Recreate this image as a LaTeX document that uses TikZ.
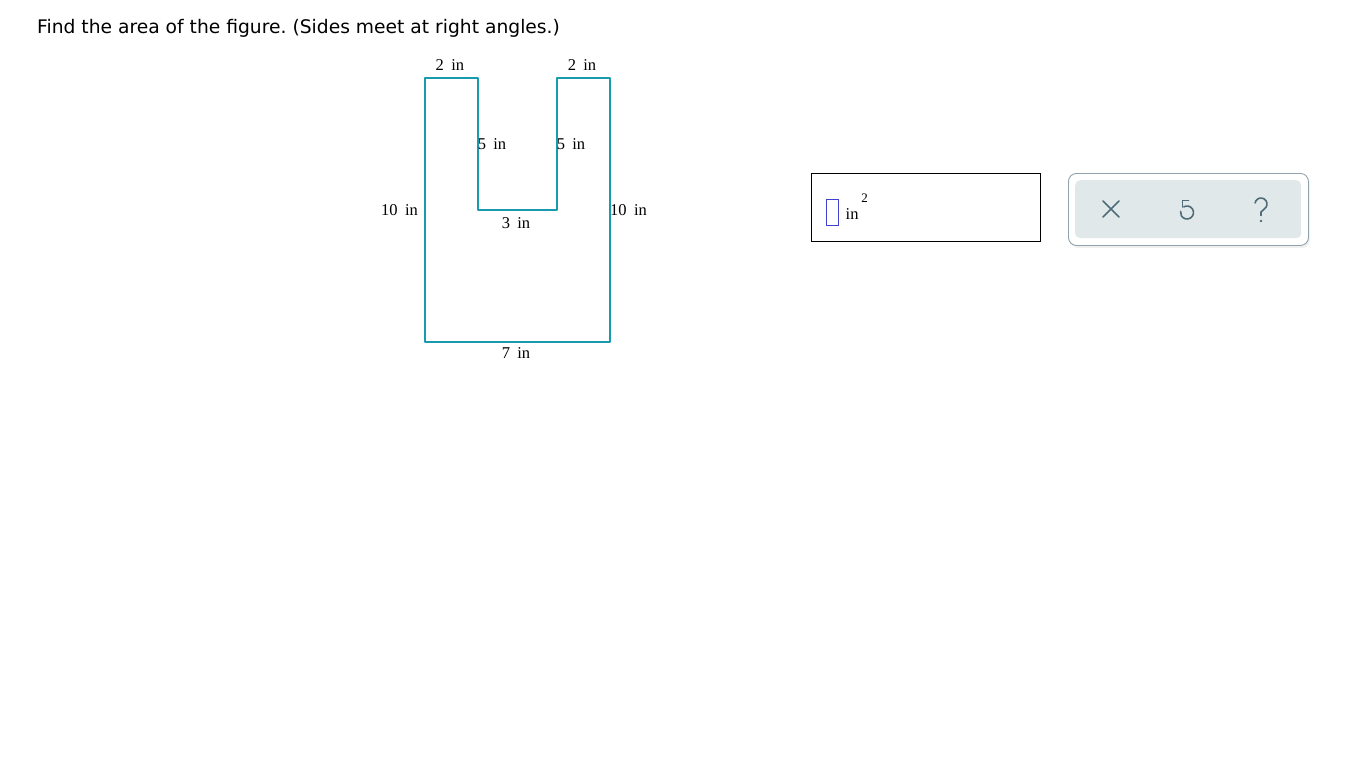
\documentclass[tikz,border=0pt]{standalone}
\usepackage{fontspec}
\setmainfont{Liberation Serif}
\newfontfamily\titlefont{DejaVu Sans}
\usetikzlibrary{shadows,calc,arrows.meta}
\definecolor{teal1}{HTML}{1A9AAF}
\definecolor{panelbd}{HTML}{8FA3AD}
\definecolor{panelbg}{HTML}{E1E8EA}
\definecolor{iconc}{HTML}{4F6C78}
\definecolor{cursorc}{HTML}{4040D0}
\newcommand{\dimgap}{\hspace{0.45em}}
\frenchspacing
\begin{document}
\begin{tikzpicture}[x=1pt,y=-1pt,
  edge/.style={draw=teal1,line width=2.7pt,line join=round,line cap=round},
  dim/.style={font=\fontsize{16.5}{18}\selectfont,inner sep=0pt,anchor=center},
  icon/.style={draw=iconc,line width=1.7pt,line cap=round,line join=round}]
\useasboundingbox (0,0) rectangle (1366,768);
\node[anchor=west,inner sep=0pt,font=\titlefont\fontsize{18.7}{20}\selectfont] (title) at (37,28) {Find the area of the figure. (Sides meet at right angles.)};
% shape corners
\coordinate (a) at (425,78);
\coordinate (b) at (478,78);
\coordinate (c) at (478,210);
\coordinate (d) at (557,210);
\coordinate (e) at (557,78);
\coordinate (f) at (610,78);
\coordinate (g) at (610,342);
\coordinate (h) at (425,342);
\draw[edge] (a) -- (b) -- (c) -- (d) -- (e) -- (f) -- (g) -- (h) -- cycle;
% labels
\node[dim] (l1) at (450,65) {2\dimgap in};
\node[dim] (l2) at (582,65) {2\dimgap in};
\node[dim] (l3) at (492,144) {5\dimgap in};
\node[dim] (l4) at (571,144) {5\dimgap in};
\node[dim] (l5) at (399.5,210) {10\dimgap in};
\node[dim] (l6) at (628.5,210) {10\dimgap in};
\node[dim] (l7) at (516,223) {3\dimgap in};
\node[dim] (l8) at (516,353) {7\dimgap in};
% answer box
\node[draw=black,line width=0.9pt,minimum width=229pt,minimum height=68pt,inner sep=0pt,anchor=north west] (ans) at (811,173) {};
\node[draw=cursorc,line width=1.1pt,minimum width=12pt,minimum height=26pt,inner sep=0pt,anchor=north west] (cur) at (826,199) {};
\node[dim,anchor=base west] (unit) at (845.5,219.5) {in};
\node[inner sep=0pt,font=\fontsize{13}{14}\selectfont] (sq) at (864.5,198.5) {2};
% button panel
\node[draw=panelbd,fill=white,line width=0.9pt,rounded corners=8pt,minimum width=240pt,minimum height=72pt,inner sep=0pt,anchor=north west,drop shadow={opacity=0.12,shadow xshift=1.5pt,shadow yshift=-2.5pt}] (panel) at (1068,173) {};
\node[fill=panelbg,rounded corners=5pt,minimum width=226pt,minimum height=58pt,inner sep=0pt,anchor=north west] (inner) at (1075,180) {};
% close icon
\coordinate (x0) at (1111,209);
\draw[icon] ($(x0)+(-8,-8)$) -- ($(x0)+(8,8)$) ($(x0)+(8,-8)$) -- ($(x0)+(-8,8)$);
% undo icon
\coordinate (u0) at (1187,212.5);
\draw[icon,line width=1.6pt] ($(u0)+(1.5,-12)$) -- ($(u0)+(-4.5,-12)$) -- ($(u0)+(-4.5,-5.5)$);
\draw[icon,line width=1.6pt] ($(u0)+(-120:6.5)$) arc[start angle=-120,end angle=190,radius=6.5];
% help icon
\coordinate (q0) at (1261,204);
\draw[icon,line width=1.6pt] ($(q0)+(-170:6)$) arc[start angle=-170,end angle=55,radius=6] -- ($(q0)+(0,8)$) -- ($(q0)+(0,11.5)$);
\fill[iconc] ($(q0)+(0,17)$) circle[radius=1.3];
\end{tikzpicture}
\end{document}
